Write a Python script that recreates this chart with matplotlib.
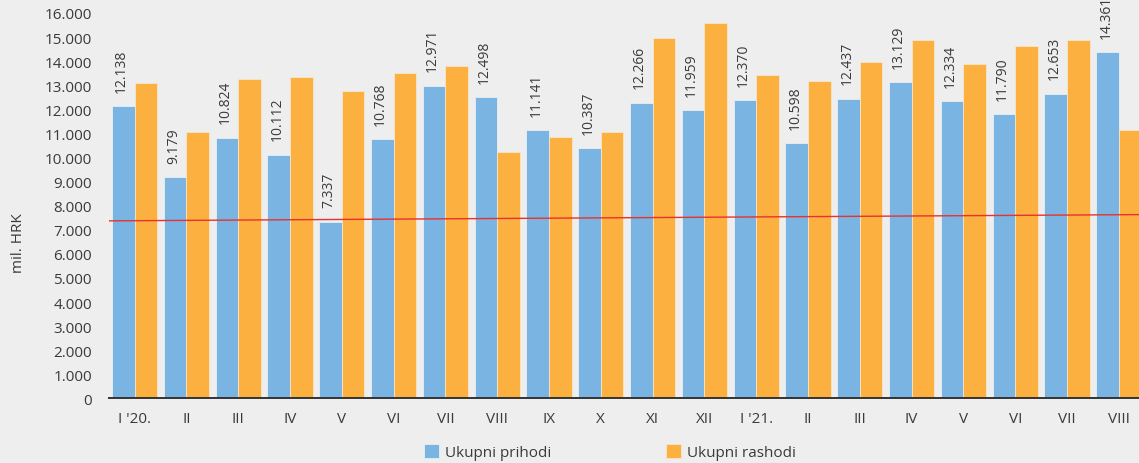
import numpy as np
import matplotlib
matplotlib.use("Agg")
import matplotlib.pyplot as plt

# monthly data, mil. HRK
months = ["I '20.", "II", "III", "IV", "V", "VI", "VII", "VIII", "IX", "X",
          "XI", "XII", "I '21.", "II", "III", "IV", "V", "VI", "VII", "VIII"]
prihodi = [12138, 9179, 10824, 10112, 7337, 10768, 12971, 12498, 11141, 10387,
           12266, 11959, 12370, 10598, 12437, 13129, 12334, 11790, 12653, 14361]
rashodi = [13090, 11050, 13270, 13340, 12780, 13500, 13780, 10210, 10850, 11040,
           14970, 15590, 13420, 13180, 13950, 14880, 13860, 14620, 14870, 11150]
trend_start = 7370
trend_end = 7630

BLUE = "#79b4e3"
ORANGE = "#fbb040"
BG = "#eeeeee"
TXT = "#3a3a3a"

plt.rcParams["font.family"] = ["Open Sans", "DejaVu Sans"]

fig = plt.figure(figsize=(11.39, 4.64), dpi=100, facecolor=BG)
ax = fig.add_axes([0.0954, 0.1392, 0.9096, 0.8308], facecolor=BG)

x = np.arange(len(months))
w = 0.435
ax.bar(x - w / 2, prihodi, w, color=BLUE, edgecolor="#e8eef4", linewidth=0.6,
       label="Ukupni prihodi", zorder=2)
ax.bar(x + w / 2, rashodi, w, color=ORANGE, edgecolor="#f6e6cc", linewidth=0.6,
       label="Ukupni rashodi", zorder=2)

# value labels above revenue bars
for xi, v in zip(x, prihodi):
    ax.text(xi - w / 2 - 0.03, v + 600, f"{v/1000:.3f}", rotation=90,
            ha="center", va="bottom", fontsize=10, color=TXT, zorder=3)

# red trend line
ax.plot([-0.5, len(months) - 0.5], [trend_start, trend_end], color="#e8322e",
        linewidth=1.0, zorder=4)

ax.set_xlim(-0.5, len(months) - 0.5)
ax.set_ylim(0, 16000)
ax.set_yticks(np.arange(0, 16001, 1000))
ax.set_yticklabels(["0"] + [f"{t//1000}.000" for t in range(1000, 16001, 1000)])
ax.set_xticks(x)
ax.set_xticklabels(months)
ax.tick_params(axis="both", length=0, labelsize=11, colors=TXT)
ax.tick_params(axis="x", pad=9)
ax.tick_params(axis="y", pad=12)
for s in ["top", "right", "left"]:
    ax.spines[s].set_visible(False)
ax.spines["bottom"].set_color("#333333")
ax.spines["bottom"].set_linewidth(1.4)
ax.spines["bottom"].set_zorder(5)

fig.text(0.016, 0.475, "mil. HRK", rotation=90, ha="center", va="center",
         fontsize=11, color=TXT)

fig.legend(loc="center", bbox_to_anchor=(0.5356, 0.024), ncol=2, frameon=False,
           handlelength=1.0, handleheight=1.0, handletextpad=0.4,
           columnspacing=7.5, fontsize=11, labelcolor=TXT)

fig.savefig("out.png", dpi=100, facecolor=BG)
